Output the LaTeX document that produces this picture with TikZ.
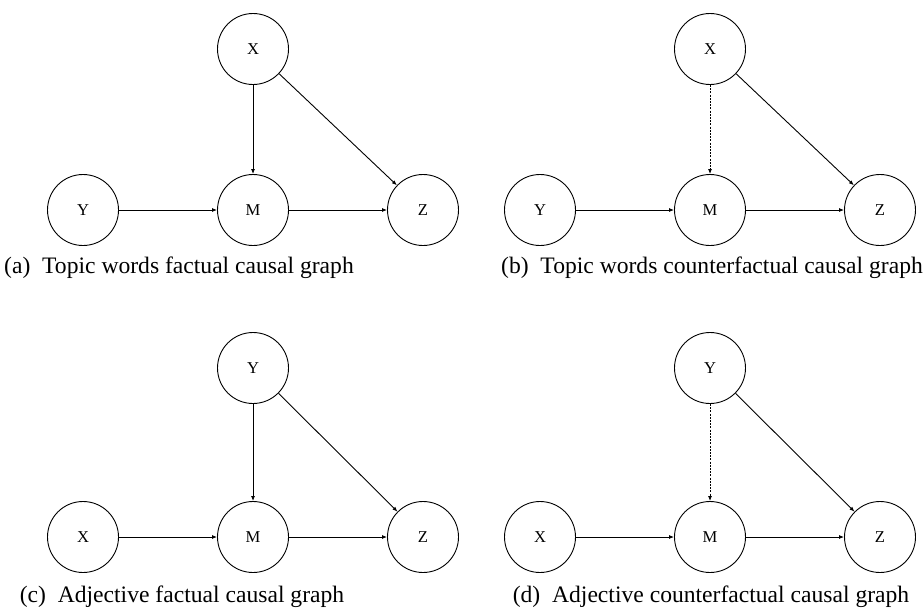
\documentclass[tikz,border=0pt]{standalone}
\usepackage{fontspec}
\setmainfont{Liberation Serif}
\usetikzlibrary{arrows.meta}

\begin{document}
\begin{tikzpicture}[x=1pt,y=-1pt,
  vnode/.style={draw,circle,minimum size=71pt,inner sep=0pt,line width=0.9pt,font=\fontsize{16.6}{18}\selectfont},
  edge/.style={line width=0.9pt,-{Latex[length=5pt,width=4pt]}},
  cfedge/.style={edge,dash pattern=on 2pt off 1.2pt},
  capt/.style={anchor=base,inner sep=0pt,font=\fontsize{23.6}{28}\selectfont}]
\useasboundingbox (0,0) rectangle (923,613);
% (a) topic words, factual
\node[vnode] (aX) at (253,49) {X};
\node[vnode] (aY) at (83,210) {Y};
\node[vnode] (aM) at (253,210) {M};
\node[vnode] (aZ) at (423,210) {Z};
\draw[edge] (aX) -- (aM);
\draw[edge] (aX) -- (aZ);
\draw[edge] (aY) -- (aM);
\draw[edge] (aM) -- (aZ);
\node[capt] (acap) at (179,273) {(a)\hspace{0.5em}Topic words factual causal graph};
% (b) topic words, counterfactual
\node[vnode] (bX) at (710,49) {X};
\node[vnode] (bY) at (540,210) {Y};
\node[vnode] (bM) at (710,210) {M};
\node[vnode] (bZ) at (880,210) {Z};
\draw[cfedge] (bX) -- (bM);
\draw[edge] (bX) -- (bZ);
\draw[edge] (bY) -- (bM);
\draw[edge] (bM) -- (bZ);
\node[capt] (bcap) at (712,273) {(b)\hspace{0.5em}Topic words counterfactual causal graph};
% (c) adjective, factual
\node[vnode] (cY) at (253,368) {Y};
\node[vnode] (cX) at (83,537) {X};
\node[vnode] (cM) at (253,537) {M};
\node[vnode] (cZ) at (423,537) {Z};
\draw[edge] (cY) -- (cM);
\draw[edge] (cY) -- (cZ);
\draw[edge] (cX) -- (cM);
\draw[edge] (cM) -- (cZ);
\node[capt] (ccap) at (182,602) {(c)\hspace{0.5em}Adjective factual causal graph};
% (d) adjective, counterfactual
\node[vnode] (dY) at (710,368) {Y};
\node[vnode] (dX) at (540,537) {X};
\node[vnode] (dM) at (710,537) {M};
\node[vnode] (dZ) at (880,537) {Z};
\draw[cfedge] (dY) -- (dM);
\draw[edge] (dY) -- (dZ);
\draw[edge] (dX) -- (dM);
\draw[edge] (dM) -- (dZ);
\node[capt] (dcap) at (711,602) {(d)\hspace{0.5em}Adjective counterfactual causal graph};
\end{tikzpicture}
\end{document}
